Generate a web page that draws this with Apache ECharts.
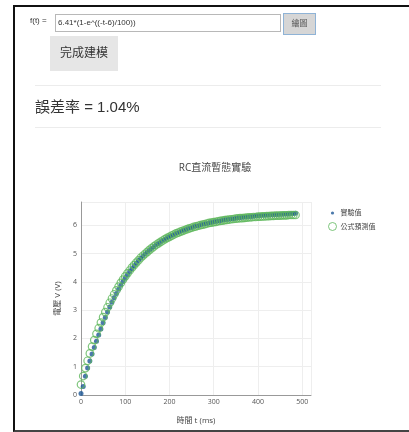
<!DOCTYPE html>
<html>
<head>
<meta charset="utf-8">
<script src="https://cdn.jsdelivr.net/npm/echarts@6/dist/echarts.min.js"></script>
<style>
  html, body { margin: 0; padding: 0; background: #fff; overflow: hidden; }
  body { width: 409px; height: 432px; position: relative; font-family: "Liberation Sans", "Noto Sans CJK TC", sans-serif; color: #333; }
  #main { position: absolute; left: 0; top: 0; width: 409px; height: 432px; }
  .abs { position: absolute; }
  #frame { left: 13px; top: 5px; width: 410px; height: 423px; border-left: 2px solid #111; border-top: 2px solid #111; border-bottom: 2px solid #444; }
  #flabel { left: 30px; top: 15px; font-size: 8px; line-height: 12px; color: #333; }
  #finput { left: 55px; top: 14px; border: 1px solid #b8b8b8; background: #fff; font-size: 8px; line-height: 16px; padding-left: 2px; box-sizing: border-box; width: 226px; height: 18px; }
  #btnDraw { left: 283px; top: 13px; width: 33px; height: 22px; background: #d6d6d6; border: 1px solid #8fb3d6; box-sizing: border-box; font-size: 8px; line-height: 20px; text-align: center; color: #555; }
  #btnDone { left: 50px; top: 36px; width: 68px; height: 35px; background: #e6e6e6; font-size: 12px; line-height: 35px; text-align: center; color: #333; }
  .hr { left: 35px; width: 346px; height: 1px; background: #ececec; }
  #err { left: 35px; top: 96px; font-size: 15px; line-height: 22px; color: #333; }
</style>
</head>
<body>
<div id="main"></div>
<div class="abs" id="frame"></div>
<div class="abs" id="flabel">f(t) =</div>
<div class="abs" id="finput">6.41*(1-e^((-t-6)/100))</div>
<div class="abs" id="btnDraw">繪圖</div>
<div class="abs" id="btnDone">完成建模</div>
<div class="abs hr" style="top:85px"></div>
<div class="abs" id="err">誤差率 = 1.04%</div>
<div class="abs hr" style="top:127px"></div>
<script>
// 時間 (ms)
var timeList = [0,5,10,15,20,25,30,35,40,45,50,55,60,65,70,75,80,85,90,95,
  100,105,110,115,120,125,130,135,140,145,150,155,160,165,170,175,180,185,190,195,
  200,205,210,215,220,225,230,235,240,245,250,255,260,265,270,275,280,285,290,295,
  300,305,310,315,320,325,330,335,340,345,350,355,360,365,370,375,380,385,390,395,
  400,405,410,415,420,425,430,435,440,445,450,455,460,465,470,475,480,485];

// 實驗值 (V)
var measured = [0.05,0.30,0.66,0.95,1.20,1.45,1.68,1.90,2.12,2.33,2.55,2.74,2.93,3.11,3.28,3.44,3.59,3.74,3.88,4.01,
  4.13,4.25,4.36,4.46,4.56,4.66,4.75,4.83,4.91,4.98,5.05,5.12,5.19,5.24,5.31,5.35,5.41,5.47,5.50,5.56,
  5.59,5.64,5.66,5.72,5.74,5.78,5.81,5.83,5.87,5.90,5.91,5.95,5.97,5.98,6.02,6.03,6.05,6.06,6.09,6.10,
  6.12,6.13,6.15,6.15,6.18,6.19,6.20,6.21,6.23,6.23,6.25,6.26,6.26,6.28,6.29,6.29,6.31,6.31,6.32,6.33,
  6.33,6.34,6.35,6.35,6.36,6.36,6.37,6.37,6.38,6.38,6.39,6.39,6.40,6.40,6.40,6.41,6.41,6.42];

// 公式預測值 (V)
var predicted = [0.37,0.67,0.95,1.21,1.47,1.71,1.94,2.16,2.36,2.56,2.75,2.93,3.10,3.26,3.41,3.56,3.70,3.83,3.96,4.08,
  4.19,4.30,4.40,4.50,4.59,4.68,4.76,4.85,4.92,4.99,5.06,5.13,5.19,5.25,5.31,5.36,5.41,5.46,5.51,5.55,
  5.59,5.63,5.67,5.71,5.74,5.77,5.80,5.83,5.86,5.89,5.91,5.94,5.96,5.98,6.00,6.02,6.04,6.06,6.08,6.09,
  6.11,6.12,6.14,6.15,6.16,6.18,6.19,6.20,6.21,6.22,6.23,6.24,6.25,6.25,6.26,6.27,6.28,6.28,6.29,6.29,
  6.30,6.30,6.31,6.31,6.32,6.32,6.33,6.33,6.34,6.34,6.34,6.35,6.35,6.35,6.36,6.36,6.36,6.36];

var xTicks = [0,100,200,300,400,500];
var yTicks = [0,1,2,3,4,5,6];

var seriesNames = ['實驗值', '公式預測值'];
var blue = '#1d5896';
var green = '#5fb85c';

function pairs(xs, ys) {
    return xs.map(function (x, i) { return [x, ys[i]]; });
}

var chart = echarts.init(document.getElementById('main'));
var fontFam = '"Open Sans", "Noto Sans CJK TC", sans-serif';
chart.setOption({
    animation: false,
    textStyle: { fontFamily: fontFam },
    title: {
        text: 'RC直流暫態實驗',
        left: 210,
        top: 158,
        textAlign: 'center',
        textStyle: { fontSize: 10, fontWeight: 'normal', color: '#444', fontFamily: fontFam }
    },
    legend: {
        orient: 'vertical',
        left: 323,
        top: 204,
        itemWidth: 8,
        itemHeight: 8,
        itemGap: 5,
        textStyle: { fontSize: 7, color: '#444', padding: [0, 0, 0, -1] },
        data: [
            { name: seriesNames[0], icon: 'path://M0,0 M10,10 M3,5 a2,2 0 1,0 4,0 a2,2 0 1,0 -4,0', itemStyle: { color: blue } },
            { name: seriesNames[1], icon: 'circle', itemStyle: { color: 'rgba(0,0,0,0)', borderColor: green, borderWidth: 1 } }
        ]
    },
    grid: { left: 81, right: 98, top: 202, bottom: 37 },
    xAxis: {
        type: 'value',
        min: 0,
        max: 520,
        interval: 100,
        name: '時間 t (ms)',
        nameLocation: 'middle',
        nameGap: 22,
        nameTextStyle: { fontSize: 8, color: '#444' },
        axisLine: { show: true, lineStyle: { color: '#999', width: 1 } },
        axisTick: { show: false },
        axisLabel: {
            fontSize: 7, color: '#555', margin: 3,
            formatter: function (v) { return xTicks.indexOf(v) >= 0 ? String(v) : ''; }
        },
        splitLine: { show: true, lineStyle: { color: '#eeeeee', width: 1 } }
    },
    yAxis: {
        type: 'value',
        min: 0,
        max: 6.82,
        interval: 1,
        name: '電壓 V (V)',
        nameLocation: 'middle',
        nameGap: 19,
        nameTextStyle: { fontSize: 8, color: '#444' },
        axisLine: { show: true, lineStyle: { color: '#999', width: 1 } },
        axisTick: { show: false },
        axisLabel: {
            fontSize: 7, color: '#555', margin: 4,
            formatter: function (v) { return yTicks.indexOf(v) >= 0 ? String(v) : ''; }
        },
        splitLine: { show: true, lineStyle: { color: '#eeeeee', width: 1 } }
    },
    series: [
        {
            name: seriesNames[0],
            type: 'scatter',
            symbol: 'circle',
            symbolSize: 5,
            itemStyle: { color: blue },
            data: pairs(timeList, measured)
        },
        {
            name: seriesNames[1],
            type: 'scatter',
            symbol: 'circle',
            symbolSize: 7.5,
            itemStyle: { color: 'rgba(0,0,0,0)', borderColor: green, borderWidth: 1.2 },
            data: pairs(timeList, predicted)
        }
    ]
});
</script>
</body>
</html>
